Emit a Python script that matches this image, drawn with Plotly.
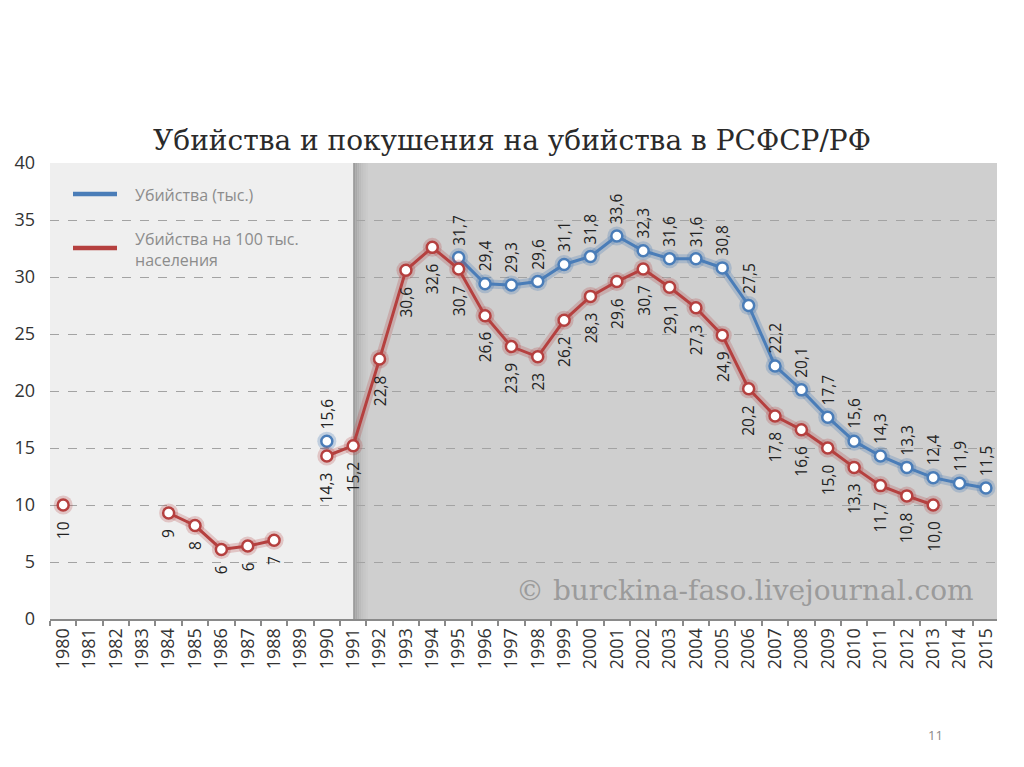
import plotly.graph_objects as go

years = list(range(1980, 2016))

red_values = [10, None, None, None, 9.3, 8.2, 6.1, 6.4, 6.9, None,
              14.3, 15.2, 22.8, 30.6, 32.6, 30.7, 26.6, 23.9, 23.0, 26.2,
              28.3, 29.6, 30.7, 29.1, 27.3, 24.9, 20.2, 17.8, 16.6, 15.0,
              13.3, 11.7, 10.8, 10.0, None, None]
red_labels = ["10", None, None, None, "9", "8", "6", "6", "7", None,
              "14,3", "15,2", "22,8", "30,6", "32,6", "30,7", "26,6", "23,9", "23", "26,2",
              "28,3", "29,6", "30,7", "29,1", "27,3", "24,9", "20,2", "17,8", "16,6", "15,0",
              "13,3", "11,7", "10,8", "10,0", None, None]

blue_values = [None] * 10 + [15.6] + [None] * 4 + [
    31.7, 29.4, 29.3, 29.6, 31.1, 31.8, 33.6, 32.3, 31.6, 31.6, 30.8,
    27.5, 22.2, 20.1, 17.7, 15.6, 14.3, 13.3, 12.4, 11.9, 11.5]
blue_labels = [None if v is None else f"{v:.1f}".replace(".", ",") for v in blue_values]

y_ticks = [0, 5, 10, 15, 20, 25, 30, 35, 40]

title_text = "Убийства и покушения на убийства в РСФСР/РФ"
legend_blue = "Убийства (тыс.)"
legend_red = "Убийства на 100 тыс.<br>населения"
watermark = "© burckina-faso.livejournal.com"

RED = "#b5403f"
BLUE = "#4a7db8"

# plot area in pixels (for paper-coordinate helpers)
PL, PR, PT, PB = 50, 997, 163, 619
def px(x):
    return (x - PL) / (PR - PL)
def py(y):
    return (PB - y) / (PB - PT)

fig = go.Figure()

# background zones
fig.add_shape(type="rect", xref="x", yref="y", x0=1979.5, x1=1991, y0=0, y1=40,
              fillcolor="#efefef", line_width=0, layer="below")
fig.add_shape(type="rect", xref="x", yref="y", x0=1991, x1=2015.42, y0=0, y1=40,
              fillcolor="#cfcfcf", line_width=0, layer="below")
shadow = ["#9c9c9c", "#a8a8a8", "#b2b2b2", "#bbbbbb", "#c2c2c2", "#c7c7c7", "#cbcbcb"]
for i, c in enumerate(shadow):
    fig.add_shape(type="rect", xref="x", yref="y", x0=1991 + i * 0.08, x1=1991 + (i + 1) * 0.08,
                  y0=0, y1=40, fillcolor=c, line_width=0, layer="below")

def add_series(vals, color, glow, name):
    fig.add_trace(go.Scatter(x=years, y=vals, mode="lines+markers", connectgaps=False,
                             line=dict(color=glow, width=9),
                             marker=dict(size=19, color=glow),
                             hoverinfo="skip", showlegend=False))
    fig.add_trace(go.Scatter(x=years, y=vals, mode="lines+markers", connectgaps=False,
                             line=dict(color=color, width=3),
                             marker=dict(size=11, color="white", line=dict(color=color, width=2.5)),
                             showlegend=False, name=name.replace("<br>", " ")))

add_series(blue_values, BLUE, "rgba(74,125,184,0.28)", legend_blue)
add_series(red_values, RED, "rgba(181,64,63,0.24)", legend_red)

# data labels
for x, v, t in zip(years, red_values, red_labels):
    if v is None:
        continue
    fig.add_annotation(x=x, y=v, xref="x", yref="y", text=t, textangle=-90, showarrow=False,
                       yanchor="top", xanchor="center", yshift=-14,
                       font=dict(family="Open Sans", size=15.5, color="#222222"))
for x, v, t in zip(years, blue_values, blue_labels):
    if v is None:
        continue
    fig.add_annotation(x=x, y=v, xref="x", yref="y", text=t, textangle=-90, showarrow=False,
                       yanchor="bottom", xanchor="center", yshift=10,
                       font=dict(family="Open Sans", size=15.5, color="#222222"))

# legend (drawn manually to match the reference layout)
for color, ly, txt, ty in [(BLUE, 194, legend_blue, 195), (RED, 248, legend_red, 249)]:
    fig.add_shape(type="line", xref="paper", yref="paper", x0=px(73), x1=px(117),
                  y0=py(ly), y1=py(ly), line=dict(color=color, width=4.5))
    fig.add_annotation(x=px(133), y=py(ty), xref="paper", yref="paper", text=txt,
                       showarrow=False, xanchor="left", yanchor="middle", align="left",
                       font=dict(family="Open Sans", size=16, color="#8c8c8c"))

fig.add_annotation(x=px(976), y=py(590), xref="paper", yref="paper", text=watermark,
                   showarrow=False, xanchor="right", yanchor="middle",
                   font=dict(family="DejaVu Serif", size=28, color="#9b9b9b"))
fig.add_annotation(x=px(935), y=py(735), xref="paper", yref="paper", text="11",
                   showarrow=False, xanchor="center", yanchor="middle",
                   font=dict(family="Open Sans", size=13, color="#8a8a8a"))

fig.update_layout(
    width=1024, height=767,
    margin=dict(l=PL, r=1024 - PR, t=PT, b=767 - PB),
    paper_bgcolor="white", plot_bgcolor="white",
    showlegend=False,
    title=dict(text=title_text, x=0.5, xanchor="center", xref="container",
               y=1 - 140 / 767, yanchor="middle",
               font=dict(family="DejaVu Serif", size=28, color="#2a2a2a")),
    xaxis=dict(range=[1979.5, 2015.42], tickmode="array", tickvals=years,
               ticktext=[str(y) for y in years], tickangle=-90,
               tickfont=dict(family="Open Sans", size=18, color="#333333"),
               showgrid=False, zeroline=False, ticks="",
               showline=True, linecolor="#8a8a8a", linewidth=2,
               minor=dict(tick0=1979.5, dtick=1, ticks="outside", ticklen=5,
                          tickcolor="#8a8a8a", tickwidth=1.5, showgrid=False)),
    yaxis=dict(range=[0, 40], tickvals=y_ticks, ticktext=[str(v) for v in y_ticks],
               tickfont=dict(family="Open Sans", size=18, color="#333333"),
               showgrid=True, gridcolor="#a3a3a3", griddash="dash", gridwidth=1,
               zeroline=False, ticks="", ticklabelstandoff=14),
)

fig.write_html("out.html")
